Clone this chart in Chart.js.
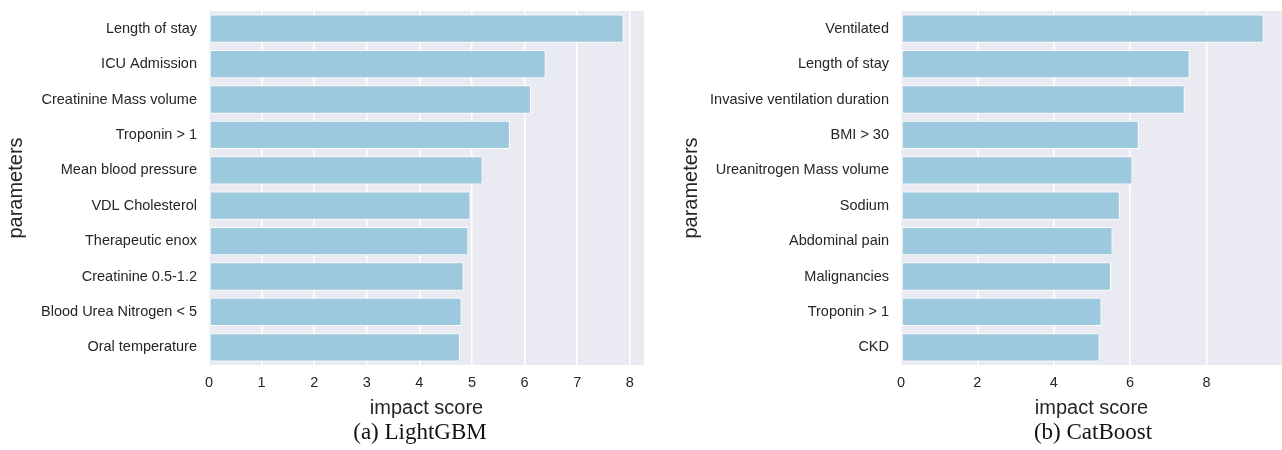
<!DOCTYPE html>
<html>
<head>
<meta charset="utf-8">
<script src="https://cdn.jsdelivr.net/npm/chart.js@4.4.1/dist/chart.umd.min.js"></script>
<style>
  html, body { margin: 0; padding: 0; background: #ffffff; }
  body { width: 1282px; height: 450px; position: relative; overflow: hidden; }
  .panel { position: absolute; top: 0; height: 420px; }
  .caption {
    position: absolute; top: 419px; width: 300px; text-align: center; line-height: 26px;
    font-family: "Liberation Serif", "DejaVu Serif", serif; font-size: 23px; color: #111;
  }
</style>
</head>
<body>
<div class="panel" id="leftPanel" style="left:0; width:652px;"><canvas id="lgbmChart"></canvas></div>
<div class="panel" id="rightPanel" style="left:660px; width:622px;"><canvas id="catChart"></canvas></div>
<div class="caption" style="left:270px;">(a) LightGBM</div>
<div class="caption" style="left:943px;">(b) CatBoost</div>
<script>
// DATA
const lgbmParams = [
  "Length of stay", "ICU Admission", "Creatinine Mass volume", "Troponin > 1",
  "Mean blood pressure", "VDL Cholesterol", "Therapeutic enox",
  "Creatinine 0.5-1.2", "Blood Urea Nitrogen < 5", "Oral temperature"
];
const lgbmScores = [7.88, 6.40, 6.12, 5.72, 5.20, 4.97, 4.93, 4.84, 4.80, 4.77];
const lgbmTicks = [0, 1, 2, 3, 4, 5, 6, 7, 8];

const catParams = [
  "Ventilated", "Length of stay", "Invasive ventilation duration", "BMI > 30",
  "Ureanitrogen Mass volume", "Sodium", "Abdominal pain", "Malignancies",
  "Troponin > 1", "CKD"
];
const catScores = [9.50, 7.56, 7.43, 6.23, 6.06, 5.73, 5.54, 5.50, 5.25, 5.20];
const catTicks = [0, 2, 4, 6, 8];

// =============================================================================

const TEXT_COLOR = "#262626";
const BAR_COLOR = "#9CC9DE";
const PLOT_BG = "#EAEAF2";
const SANS = "'Liberation Sans', Arial, sans-serif";

const plotBackground = {
  id: "plotBackground",
  beforeDraw: (chart) => {
    const { ctx, chartArea } = chart;
    ctx.save();
    ctx.fillStyle = PLOT_BG;
    ctx.fillRect(chartArea.left, chartArea.top, chartArea.width, chartArea.height);
    ctx.restore();
  },
};

const buildChart = (canvasId, labels, values, ticks, xMax, yWidth, padding) => {
  const canvas = document.getElementById(canvasId);
  return new Chart(canvas, {
    type: "bar",
    data: {
      labels: labels,
      datasets: [{
        data: values,
        backgroundColor: BAR_COLOR,
        borderColor: "#ffffff",
        borderWidth: 1,
        borderSkipped: false,
        barPercentage: 0.8,
        categoryPercentage: 1,
      }],
    },
    options: {
      indexAxis: "y",
      responsive: true,
      maintainAspectRatio: false,
      animation: false,
      layout: { padding: padding },
      plugins: { legend: { display: false }, tooltip: { enabled: false } },
      scales: {
        x: {
          min: 0,
          max: xMax,
          afterBuildTicks: (s) => { s.ticks = ticks.map((v) => ({ value: v })); },
          afterFit: (s) => { s.height = 55; },
          border: { display: false },
          grid: { color: "#ffffff", lineWidth: 1.5, drawTicks: false },
          ticks: { color: TEXT_COLOR, padding: 9, font: { family: SANS, size: 14.5 } },
          title: {
            display: true, text: "impact score", color: TEXT_COLOR,
            padding: 0, font: { family: SANS, size: 20 },
          },
        },
        y: {
          afterFit: (s) => {
            s.width = yWidth;
            s.paddingTop = 0;
            s.paddingBottom = 0;
          },
          border: { display: false },
          grid: { display: false, drawTicks: false },
          ticks: { color: TEXT_COLOR, padding: 12, font: { family: SANS, size: 14.5 } },
          title: {
            display: true, text: "parameters", color: TEXT_COLOR,
            padding: 0, font: { family: SANS, size: 20 },
          },
        },
      },
    },
    plugins: [plotBackground],
  });
};

buildChart("lgbmChart", lgbmParams, lgbmScores, lgbmTicks, 8.27, 205, { top: 11, right: 8, left: 4, bottom: 0 });
buildChart("catChart", catParams, catScores, catTicks, 9.98, 222, { top: 11, right: 0, left: 19, bottom: 0 });
</script>
</body>
</html>
